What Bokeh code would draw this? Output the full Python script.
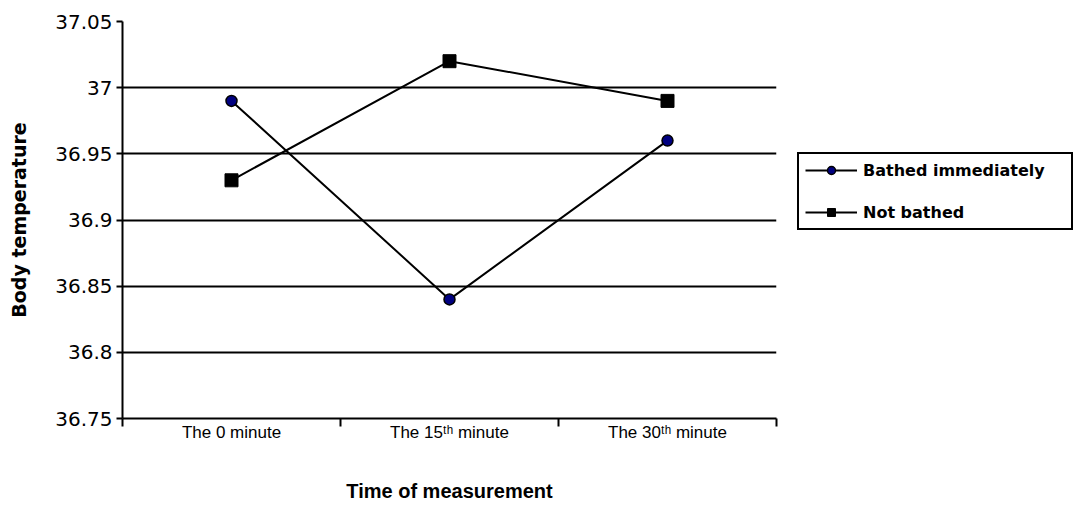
from bokeh.plotting import figure
from bokeh.models import FixedTicker, Legend, LegendItem, Range1d
from bokeh.embed import file_html
from bokeh.resources import INLINE

categories = ["The 0 minute", "The 15\u1d57\u02b0 minute", "The 30\u1d57\u02b0 minute"]
bathed = [36.99, 36.84, 36.96]
not_bathed = [36.93, 37.02, 36.99]
y_ticks = [36.75, 36.80, 36.85, 36.90, 36.95, 37.00, 37.05]
y_tick_labels = ["36.75", "36.8", "36.85", "36.9", "36.95", "37", "37.05"]

SANS = "Liberation Sans"
WIDE = "DejaVu Sans"
xs = [i + 0.5 for i in range(len(categories))]

p = figure(frame_width=654, frame_height=397, output_backend="svg", toolbar_location=None,
           x_range=Range1d(0, len(categories)), y_range=Range1d(y_ticks[0], y_ticks[-1]),
           min_border_left=122, min_border_right=0, min_border_top=21, min_border_bottom=0)
p.outline_line_color = None
p.background_fill_color = "white"
p.border_fill_color = "white"

# x axis
p.xaxis.ticker = FixedTicker(ticks=xs, minor_ticks=list(range(len(categories) + 1)))
p.xaxis.major_label_overrides = {x: c for x, c in zip(xs, categories)}
p.xaxis.major_tick_line_color = None
p.xaxis.minor_tick_line_color = "black"
p.xaxis.minor_tick_line_width = 2
p.xaxis.minor_tick_out = 8
p.xaxis.minor_tick_in = 0
p.xaxis.axis_line_color = "black"
p.xaxis.axis_line_width = 2
p.xaxis.major_label_text_font = SANS
p.xaxis.major_label_text_font_size = "17px"
p.xaxis.major_label_text_color = "black"
p.xaxis.major_label_standoff = -4
p.xaxis.axis_label = "Time of measurement"
p.xaxis.axis_label_text_font = SANS
p.xaxis.axis_label_text_font_style = "bold"
p.xaxis.axis_label_text_font_size = "20px"
p.xaxis.axis_label_text_color = "black"
p.xaxis.axis_label_standoff = 35
p.xgrid.visible = False

# y axis
p.yaxis.ticker = FixedTicker(ticks=y_ticks, minor_ticks=[])
p.yaxis.major_label_overrides = {t: l for t, l in zip(y_ticks, y_tick_labels)}
p.yaxis.major_tick_line_color = "black"
p.yaxis.major_tick_line_width = 2
p.yaxis.major_tick_out = 6
p.yaxis.major_tick_in = 0
p.yaxis.minor_tick_line_color = None
p.yaxis.axis_line_color = "black"
p.yaxis.axis_line_width = 2
p.yaxis.major_label_text_font = WIDE
p.yaxis.major_label_text_font_size = "20px"
p.yaxis.major_label_text_color = "black"
p.yaxis.major_label_standoff = 4
p.yaxis.axis_label = "Body temperature"
p.yaxis.axis_label_text_font = WIDE
p.yaxis.axis_label_text_font_style = "bold"
p.yaxis.axis_label_text_font_size = "19px"
p.yaxis.axis_label_text_color = "black"
p.yaxis.axis_label_standoff = 22
p.ygrid.ticker = FixedTicker(ticks=y_ticks, minor_ticks=[])
p.ygrid.grid_line_color = "black"
p.ygrid.grid_line_width = 2

l1 = p.line(xs, bathed, line_color="black", line_width=2)
m1 = p.scatter(xs, bathed, marker="circle", size=11, fill_color="#000080", line_color="black", line_width=1.5)
l2 = p.line(xs, not_bathed, line_color="black", line_width=2)
m2 = p.scatter(xs, not_bathed, marker="square", size=13, fill_color="black", line_color="black")

legend = Legend(items=[LegendItem(label="Bathed immediately", renderers=[l1, m1]),
                       LegendItem(label="Not bathed", renderers=[l2, m2])],
                location=(21, 188), orientation="vertical")
legend.border_line_color = "black"
legend.border_line_alpha = 1
legend.border_line_width = 2
legend.background_fill_color = "white"
legend.background_fill_alpha = 1
legend.padding = 6
legend.spacing = 22
legend.glyph_width = 52
legend.glyph_height = 20
legend.label_height = 20
legend.label_standoff = 6
legend.label_width = 202
legend.margin = 0
legend.label_text_font = WIDE
legend.label_text_font_style = "bold"
legend.label_text_font_size = "16px"
legend.label_text_color = "black"
p.add_layout(legend, "right")

open("out.html", "w").write(file_html(p, INLINE))
